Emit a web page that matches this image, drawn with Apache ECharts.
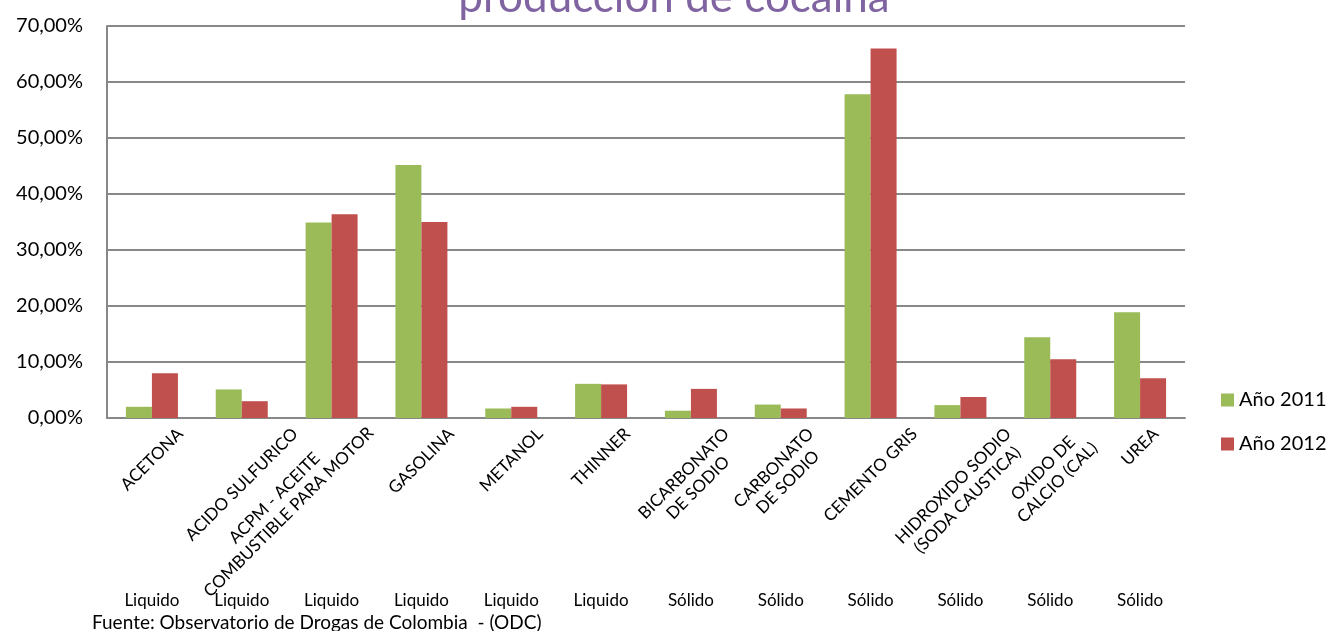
<!DOCTYPE html>
<html><head><meta charset="utf-8">
<script src="https://cdn.jsdelivr.net/npm/echarts@6/dist/echarts.min.js"></script>
<style>html,body{margin:0;padding:0;background:#fff}#c{width:1327px;height:631px}</style>
</head><body><div id="c"></div>
<script>
const titleText = 'producción de cocaína';
const categories = ['ACETONA', 'ACIDO SULFURICO', 'ACPM - ACEITE\nCOMBUSTIBLE PARA MOTOR', 'GASOLINA', 'METANOL', 'THINNER',
  'BICARBONATO\nDE SODIO', 'CARBONATO\nDE SODIO', 'CEMENTO GRIS', 'HIDROXIDO SODIO\n(SODA CAUSTICA)', 'OXIDO DE\nCALCIO (CAL)', 'UREA'];
const estados = ['Liquido', 'Liquido', 'Liquido', 'Liquido', 'Liquido', 'Liquido', 'Sólido', 'Sólido', 'Sólido', 'Sólido', 'Sólido', 'Sólido'];
const seriesNames = ['Año 2011', 'Año 2012'];
const serie2011 = [2.0, 5.1, 34.9, 45.2, 1.7, 6.1, 1.3, 2.4, 57.8, 2.3, 14.4, 18.9];
const serie2012 = [8.0, 3.0, 36.4, 35.0, 2.0, 6.0, 5.2, 1.7, 66.0, 3.75, 10.5, 7.1];
const yMin = 0, yMax = 70, yStep = 10;
const fuente = 'Fuente: Observatorio de Drogas de Colombia  - (ODC)';

const FONT = 'Lato';
const LABEL_SIZE = 17, LABEL_LH = 20;
// screen nudge [dx, dy] (px) of the long wrapped label, which the original pushes left
const LABEL_NUDGE = { 'ACPM - ACEITE\nCOMBUSTIBLE PARA MOTOR': [-50, -15] };

// Excel-like placement of rotated labels: centred horizontally on the tick, top touching the axis
const ctx = document.createElement('canvas').getContext('2d');
ctx.font = LABEL_SIZE + 'px ' + FONT;
const R = Math.SQRT1_2;
const catData = categories.map(function (name) {
  const lines = name.split('\n');
  let w = 0;
  lines.forEach(function (l) { w = Math.max(w, ctx.measureText(l).width); });
  const h = lines.length * LABEL_LH;
  const p = 0.5 * (w + h);
  const n = LABEL_NUDGE[name] || [0, 0];
  const a = R * (n[0] - n[1]);   // along the text direction
  const b = R * (n[0] + n[1]);   // across the text direction
  const pr = p - 2 * a;
  const pt = p + 2 * b;
  return { value: name, textStyle: { align: 'center', verticalAlign: 'middle',
    padding: [Math.max(pt, 0), Math.max(pr, 0), Math.max(-pt, 0), Math.max(-pr, 0)] } };
});

const chart = echarts.init(document.getElementById('c'), null, { renderer: 'canvas' });
chart.setOption({
  animation: false,
  backgroundColor: '#fff',
  title: {
    text: titleText, left: 669, top: -29, textAlign: 'center',
    textStyle: { fontFamily: FONT, fontSize: 44, lineHeight: 44, fontWeight: 'normal', color: '#8064A2' }
  },
  grid: { left: 107, right: 142, top: 26, bottom: 213, containLabel: false, outerBoundsMode: 'none' },
  legend: {
    orient: 'vertical', left: 1216, top: 385, itemWidth: 13, itemHeight: 13, itemGap: 24,
    icon: 'rect', data: seriesNames,
    textStyle: { fontFamily: FONT, fontSize: 20, lineHeight: 20, color: '#000' }
  },
  xAxis: [{
    type: 'category', data: catData, position: 'bottom',
    axisLine: { show: true, lineStyle: { color: '#888', width: 2 } },
    axisTick: { show: false },
    axisLabel: {
      interval: 0, rotate: 45, margin: 6,
      fontFamily: FONT, fontSize: LABEL_SIZE, lineHeight: LABEL_LH, color: '#000',
      formatter: function (v) { return v.split('\n').map(function (l) { return '{c|' + l + '}'; }).join('\n'); },
      rich: { c: { align: 'center', fontFamily: FONT, fontSize: LABEL_SIZE, lineHeight: LABEL_LH, color: '#000' } }
    }
  }, {
    type: 'category', data: estados, position: 'bottom', offset: 170,
    axisLine: { show: false }, axisTick: { show: false }, splitLine: { show: false },
    axisLabel: { interval: 0, margin: 4, fontFamily: FONT, fontSize: 17, lineHeight: 17, color: '#000' }
  }],
  yAxis: {
    type: 'value', min: yMin, max: yMax, interval: yStep,
    axisLine: { show: true, lineStyle: { color: '#888', width: 2 } },
    axisTick: { show: false },
    splitLine: { show: true, lineStyle: { color: '#888', width: 2 } },
    axisLabel: {
      margin: 24, fontFamily: FONT, fontSize: 20, color: '#000',
      formatter: function (v) { return v.toFixed(2).replace('.', ',') + '%'; }
    }
  },
  series: [
    { name: seriesNames[0], type: 'bar', data: serie2011, barWidth: 26, barGap: '0%', itemStyle: { color: '#9BBB59' } },
    { name: seriesNames[1], type: 'bar', data: serie2012, barWidth: 26, barGap: '0%', itemStyle: { color: '#C0504D' } }
  ],
  graphic: [{
    type: 'text', left: 92, top: 613,
    style: { text: fuente, fontFamily: FONT, fontSize: 19, fill: '#000' }
  }]
});
</script></body></html>
